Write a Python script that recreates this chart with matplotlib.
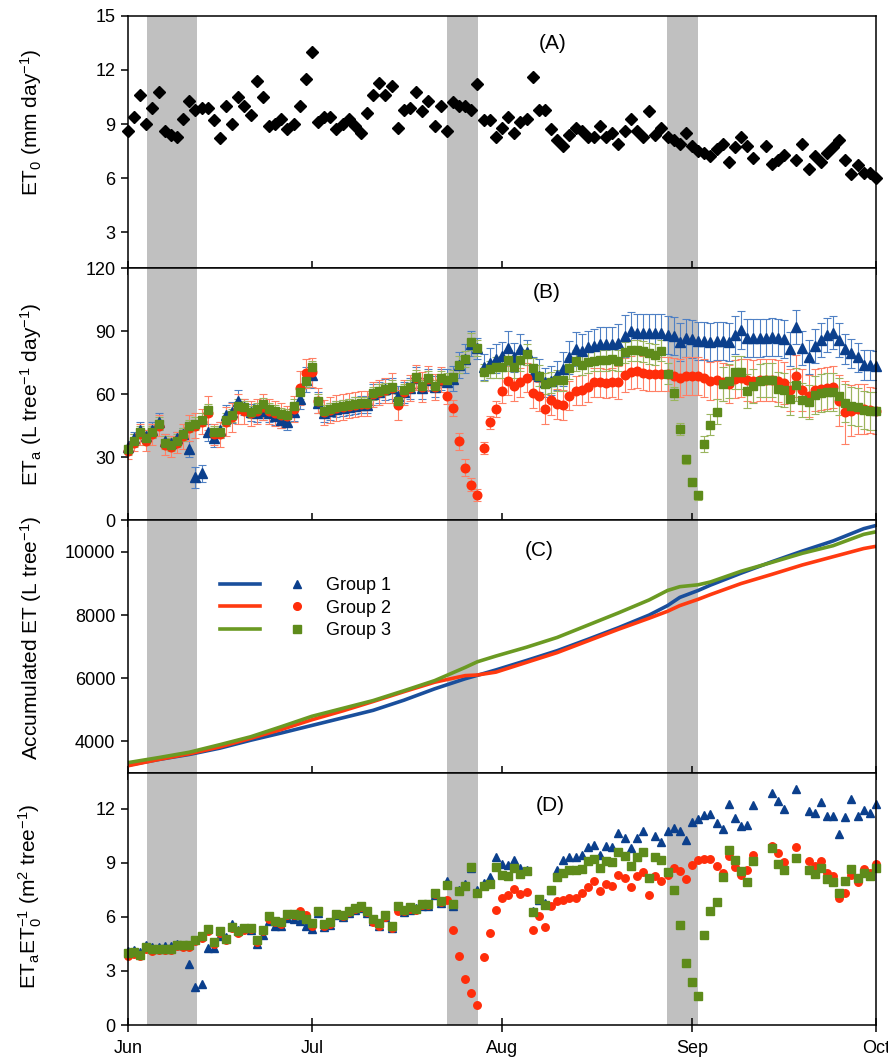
import numpy as np
import matplotlib
matplotlib.use('Agg')
import matplotlib.pyplot as plt
from matplotlib.lines import Line2D
from matplotlib.legend_handler import HandlerTuple

plt.rcParams['font.family'] = ['Liberation Sans', 'DejaVu Sans']
plt.rcParams['mathtext.fontset'] = 'custom'
plt.rcParams['mathtext.rm'] = 'Liberation Sans'
plt.rcParams['mathtext.it'] = 'Liberation Sans:italic'
plt.rcParams['mathtext.bf'] = 'Liberation Sans:bold'
plt.rcParams['mathtext.default'] = 'regular'

nan = np.nan

# ── Data (day 0 = 1 June, day 122 = 1 October) ─────────────────
days = np.arange(123)
month_ticks = [0, 30, 61, 92, 122]
month_labels = ['Jun', 'Jul', 'Aug', 'Sep', 'Oct']

# grey periods (days since 1 June)
shade_start = [3.1, 52.0, 87.9]
shade_end = [11.25, 57.1, 93.0]

# (A) reference ET, mm/day
et0 = [8.6, 9.4, 10.6, 9.0, 9.9, 10.8, 8.6, 8.4, 8.3, 9.3,
       10.3, 9.8, 9.9, 9.9, 9.2, 8.2, 10.0, 9.0, 10.5, 10.0,
       9.5, 11.4, 10.5, 8.9, 9.0, 9.3, 8.7, 9.0, 10.0, 11.5,
       13.0, 9.1, 9.4, 9.4, 8.7, 9.0, 9.3, 8.9, 8.5, 9.6,
       10.6, 11.3, 10.6, 11.1, 8.8, 9.8, 9.9, 10.8, 9.7, 10.3,
       8.9, 10.0, 8.6, 10.2, 10.0, 10.0, 9.8, 11.2, 9.2, 9.2,
       8.3, 8.8, 9.4, 8.5, 9.1, 9.3, 11.6, 9.8, 9.8, 8.7,
       8.1, 7.8, 8.4, 8.8, 8.6, 8.3, 8.3, 8.9, 8.3, 8.5,
       7.9, 8.6, 9.3, 8.6, 8.3, 9.7, 8.4, 8.8, 8.3, 8.1,
       7.9, 8.5, 7.8, 7.5, 7.4, 7.2, 7.6, 7.9, 6.9, 7.7,
       8.3, 7.8, 7.1, nan, 7.8, 6.8, 7.0, 7.3, nan, 7.0,
       7.9, 6.5, 7.2, 6.9, 7.4, 7.7, 8.1, 7.0, 6.2, 6.7,
       6.3, 6.3, 6.0]

# (B) actual ET, L/tree/day, with standard errors
g1_eta = [35, 39, 43, 40, 43, 47, 38, 37, 39, 41,
          34, 20.6, 22.5, 42, 39, 43, 50, 51.5, 57, 54,
          51.5, 51, 52, 51, 49.5, 48, 47, 51.5, 58, 67,
          69, 56, 51, 52, 53, 53.5, 54, 54.5, 55, 55,
          60, 61, 62.5, 63, 59, 61, 63, 68, 63, 67,
          63.5, 67, 66, 67.5, 74, 77, 84, 82, 73, 75,
          77, 78, 82, 77.6, 81.5, 80, 69.7, 68.9, 65.7, 66.5,
          69, 72, 77.6, 81.5, 80.7, 82.3, 83, 84, 84, 84,
          84.3, 87.9, 90.2, 89.4, 89, 89.4, 89, 89, 88.3, 87.9,
          84.7, 86.7, 86.3, 85.5, 85.5, 84.7, 85.5, 85.5, 84.7, 88.3,
          90.5, 86.7, 86.7, 86.7, 87, 87.4, 87, 86.3, 81.5, 92,
          82, 77.9, 83, 85.8, 88.3, 89.4, 85.8, 81.5, 79.5, 77.6,
          74, 74, 73.6]
g2_eta = [33, 37, 41, 38, 41, 45, 36, 35, 37, 40,
          44, 45, 47, 51, 41, 41, 47, 49, 53, 52,
          51, 52, 54, 52, 51, 50, 49.5, 53, 63, 70,
          70.4, 57, 51.5, 52.5, 53.5, 54, 54.5, 55, 55.5, 55.5,
          60, 61, 62, 63, 55, 61, 63, 68, 63.5, 67.5,
          63.5, 67, 59.4, 53.5, 37.7, 25, 17, 12.2, 34.5, 46.7,
          53, 61.7, 66.5, 64, 65.7, 68, 60.5, 59, 53, 57.3,
          55.4, 55, 59.4, 61.7, 62, 63.3, 65.7, 65.7, 65.2, 65.7,
          65.7, 69.3, 70.4, 71, 70, 69.7, 69.7, 69.7, 69.7, 68.5,
          67.8, 68.9, 68.9, 68.9, 67.8, 66.5, 66.8, 65.7, 65, 67.3,
          67.8, 66.8, 66.5, 66.8, 66.8, 66.8, 66.5, 65.2, 62, 68.9,
          62, 59.4, 62, 62.5, 63, 63.3, 57, 51.4, 52.2, 53,
          53, 52.5, 52.2]
g3_eta = [34, 38, 42, 39, 42, 46, 37, 36, 38, 41,
          45, 46, 48, 52.5, 42, 42, 48, 50, 54.6, 54,
          51.5, 53, 55.4, 53, 52, 50.7, 50, 54.6, 61, 66.5,
          72.8, 57, 52, 53, 54, 54.5, 55, 55.5, 55.7, 55.7,
          60.5, 61.7, 62.5, 63.6, 57, 62, 63.6, 68.4, 64, 68,
          64, 68, 67, 68.4, 74, 76.8, 85, 82, 70.4, 72,
          72.8, 73, 76.3, 73, 76.3, 79, 72.5, 68.9, 65, 65.7,
          66.8, 66.8, 72.5, 76, 74, 75.2, 76, 76.3, 76.3, 76.8,
          76, 80, 81, 81, 80.4, 79.5, 78.8, 80.7, 69.7, 60.5,
          43.5, 29, 18.2, 11.9, 36.4, 45.6, 51.8, 65, 66.2, 70.4,
          70.4, 61.7, 64, 66.5, 66.8, 66.8, 62.5, 62, 58, 64.6,
          57.3, 56.2, 59.8, 60.5, 61, 61, 59, 55.7, 54.6, 53.8,
          52.5, 52.2, 52]
g1_err = [3, 3, 4, 3, 4, 4, 3, 3, 3, 3,
          4, 5, 4, 4, 4, 4, 5, 5, 5, 4,
          4, 4, 4, 4, 4, 4, 4, 4, 5, 6,
          6, 5, 4, 4, 4, 4, 4, 4, 4, 4,
          5, 5, 5, 5, 5, 5, 5, 5, 5, 5,
          5, 5, 6, 6, 6, 7, 6, 5, 6, 7,
          7, 7, 8, 7, 7, 6, 8, 8, 7, 7,
          7, 8, 8, 8, 8, 8, 8, 8, 8, 8,
          9, 10, 9, 9, 9, 9, 9, 9, 9, 9,
          9, 9, 9, 9, 9, 9, 9, 9, 9, 9,
          9, 9, 9, 9, 9, 9, 9, 9, 8, 8,
          8, 8, 8, 8, 8, 8, 8, 7, 7, 7,
          7, 7, 7]
g2_err = [4, 4, 5, 5, 5, 5, 5, 5, 5, 6,
          6, 6, 6, 8, 5, 6, 7, 7, 7, 6,
          6, 6, 6, 6, 6, 6, 5, 6, 8, 7,
          7, 6, 6, 6, 6, 6, 6, 6, 6, 6,
          6, 6, 6, 7, 7, 6, 6, 6, 7, 6,
          6, 6, 4, 4, 4, 4, 3, 3, 3, 3,
          4, 6, 7, 7, 7, 7, 7, 7, 7, 7,
          7, 7, 7, 7, 7, 7, 7, 7, 7, 7,
          8, 8, 8, 8, 8, 8, 8, 8, 8, 9,
          9, 9, 9, 9, 9, 9, 9, 9, 9, 9,
          9, 10, 10, 10, 10, 10, 10, 10, 10, 10,
          10, 10, 10, 10, 10, 10, 12, 15, 12, 12,
          12, 11, 11]
g3_err = [3, 3, 3, 3, 3, 3, 3, 3, 3, 3,
          3, 3, 3, 3, 3, 3, 3, 3, 3, 3,
          3, 3, 3, 3, 3, 3, 3, 3, 3, 3,
          3, 3, 3, 3, 3, 3, 3, 3, 3, 3,
          3, 3, 3, 3, 3, 3, 3, 3, 3, 3,
          3, 3, 3, 3, 4, 4, 4, 4, 4, 4,
          5, 5, 5, 5, 5, 5, 5, 5, 5, 5,
          5, 5, 5, 5, 5, 5, 5, 5, 5, 5,
          5, 5, 5, 5, 5, 5, 5, 5, 5, 3,
          3, 2, 2, 2, 4, 5, 6, 8, 8, 8,
          8, 8, 8, 8, 8, 8, 8, 8, 8, 8,
          8, 8, 9, 9, 9, 9, 9, 9, 9, 9,
          9, 9, 9]

# (C) accumulated ET, L/tree
acc_days = [0, 5, 10, 15, 20, 25, 30, 35, 40, 45, 50, 55, 57, 60, 65, 70,
            75, 80, 85, 88, 90, 93, 95, 100, 105, 110, 115, 120, 122]
g1_acc = [3240, 3420, 3580, 3780, 4030, 4260, 4500, 4740, 4980, 5300, 5660,
          5980, 6090, 6260, 6560, 6870, 7230, 7600, 8000, 8300, 8560, 8780,
          8950, 9330, 9690, 10030, 10350, 10740, 10840]
g2_acc = [3220, 3420, 3600, 3820, 4090, 4370, 4680, 4960, 5260, 5570, 5870,
          6080, 6100, 6190, 6500, 6810, 7180, 7550, 7900, 8120, 8300, 8500,
          8650, 9000, 9290, 9590, 9850, 10110, 10180]
g3_acc = [3320, 3480, 3650, 3890, 4140, 4460, 4790, 5040, 5290, 5600, 5920,
          6340, 6520, 6700, 6980, 7290, 7680, 8070, 8480, 8780, 8900, 8960,
          9050, 9390, 9670, 9960, 10200, 10560, 10640]

# (D) ETa / ET0, m2/tree
g1_ratio = [4.1, 4.15, 4.05, 4.45, 4.35, 4.35, 4.4, 4.4, 4.5, 4.45,
            3.36, 2.12, 2.29, 4.28, 4.28, 4.95, 4.9, 5.6, 5.3, 5.4,
            5.3, 4.5, 5.0, 5.75, 5.5, 5.5, 5.95, 5.9, 5.8, 5.5,
            5.35, 6.2, 5.45, 5.55, 6.1, 6.0, 6.2, 6.4, 6.5, 6.2,
            5.8, 5.5, 6.0, 5.4, 6.6, 6.25, 6.4, 6.5, 6.6, 6.6,
            7.2, 6.75, 7.97, 6.6, 7.5, 7.8, 8.7, 7.5, 7.9, 8.2,
            9.32, 8.95, 8.9, 9.13, 8.71, 8.6, 6.31, 6.96, 6.77, 7.5,
            8.58, 9.13, 9.32, 9.32, 9.45, 9.87, 10.0, 9.45, 9.94, 9.9,
            10.65, 10.37, 9.82, 10.37, 10.74, nan, 10.5, 10.13, 10.79, 10.92,
            10.79, 10.24, 11.29, 11.42, 11.66, 11.7, 11.2, 10.87, 12.27, 11.48,
            11.05, 11.1, 12.21, nan, nan, 12.9, 12.45, 11.97, nan, 13.08,
            nan, 11.9, 11.75, 12.36, 11.6, 11.6, 10.6, 11.57, 12.53, 11.6,
            11.94, 11.75, 12.27]
g2_ratio = [3.85, 3.95, 3.85, 4.2, 4.1, 4.15, 4.15, 4.15, 4.4, 4.35,
            4.35, 4.65, 4.85, 5.2, 4.5, 5.1, 4.7, 5.4, 5.1, 5.3,
            5.35, 4.6, 5.2, 5.9, 5.7, 5.6, 6.1, 6.1, 6.3, 6.1,
            5.5, 6.3, 5.5, 5.6, 6.15, 6.05, 6.25, 6.45, 6.55, 6.25,
            5.7, 5.5, 6.0, 5.4, 6.3, 6.3, 6.45, 6.4, 6.65, 6.65,
            7.25, 6.8, 6.96, 5.26, 3.82, 2.53, 1.79, 1.11, 3.78, 5.11,
            6.4, 7.05, 7.23, 7.55, 7.29, 7.36, 5.26, 6.03, 5.44, 6.62,
            6.86, 6.96, 7.05, 7.05, 7.32, 7.66, 7.97, 7.42, 7.84, 7.73,
            8.34, 8.15, 7.66, 8.25, 8.47, 7.23, 8.28, 7.97, 8.3, 8.71,
            8.52, 8.1, 8.89, 9.13, 9.21, 9.21, 8.8, 8.43, 9.39, 8.76,
            8.34, 8.62, 9.45, nan, nan, 9.94, 9.54, 9.02, nan, 9.87,
            nan, 9.08, 8.8, 9.08, 8.43, 8.25, 7.05, 7.32, 8.34, 7.92,
            8.65, 8.43, 8.95]
g3_ratio = [4.0, 4.03, 3.9, 4.33, 4.2, 4.2, 4.2, 4.2, 4.46, 4.46,
            4.46, 4.74, 4.92, 5.33, 4.6, 5.2, 4.78, 5.44, 5.2, 5.39,
            5.39, 4.7, 5.26, 6.03, 5.8, 5.7, 6.18, 6.18, 6.12, 5.89,
            5.66, 6.31, 5.6, 5.7, 6.18, 6.12, 6.31, 6.49, 6.58, 6.31,
            5.89, 5.66, 6.12, 5.48, 6.58, 6.4, 6.55, 6.44, 6.73, 6.73,
            7.32, 6.86, 7.78, 6.73, 7.41, 7.73, 8.76, 7.32, 7.69, 7.84,
            8.76, 8.34, 8.25, 8.71, 8.4, 8.52, 6.25, 6.99, 6.68, 7.47,
            8.21, 8.43, 8.62, 8.62, 8.65, 9.08, 9.21, 8.71, 9.08, 9.05,
            9.58, 9.39, 8.8, 9.32, 9.58, 8.15, 9.32, 9.13, 8.47, 7.47,
            5.54, 3.45, 2.38, 1.61, 5.02, 6.31, 6.81, 8.21, 9.69, 9.13,
            8.56, 7.92, 9.08, nan, nan, 9.82, 8.95, 8.58, nan, 9.26,
            nan, 8.62, 8.4, 8.71, 8.1, 7.92, 7.32, 7.97, 8.65, 8.15,
            8.43, 8.28, 8.71]

group_names = ['Group 1', 'Group 2', 'Group 3']

# ── Styles ─────────────────────────────────────────────────────
COL = ['#0B3F8C', '#FF2D0A', '#5E8B1B']
ECOL = ['#4F80C4', '#FF8066', '#9AB55E']
LCOL = ['#1A4F9C', '#FF3A10', '#6B9A23']
MARK = ['^', 'o', 's']
MS_B = [7.0, 6.2, 6.2]
MS_D = [6.0, 5.4, 5.4]
SHADE = '#C0C0C0'

fig, axes = plt.subplots(4, 1, figsize=(8.88, 10.6), dpi=100, sharex=True)
fig.subplots_adjust(left=0.1441, right=0.9865, bottom=0.033, top=0.985, hspace=0)
axA, axB, axC, axD = axes

for ax in axes:
    for s0, s1 in zip(shade_start, shade_end):
        ax.axvspan(s0, s1, color=SHADE, lw=0, zorder=0)
    for sp in ax.spines.values():
        sp.set_linewidth(1.1)
        sp.set_zorder(5)
    ax.tick_params(axis='y', direction='out', length=5, width=1.1,
                   labelsize=13, pad=4, right=False)
    ax.tick_params(axis='x', direction='inout', length=10, width=1.1,
                   labelsize=13, pad=5.5, top=False)
    ax.set_xlim(0, 122)
    ax.set_xticks(month_ticks)

axD.set_xticklabels(month_labels)

# (A)
axA.plot(days, et0, ls='none', marker='D', ms=5.8, color='black',
         clip_on=False, zorder=3)
axA.set_ylim(1, 15)
axA.set_yticks([3, 6, 9, 12, 15])
axA.set_ylabel('ET$_0$ (mm day$^{-1}$)', fontsize=15)
axA.yaxis.set_label_coords(-0.112, 0.58)
axA.text(0.568, 0.89, '(A)', transform=axA.transAxes, fontsize=15,
         ha='center', va='center')

# (B)
for eta, err, c, ec, m, ms in zip([g1_eta, g2_eta, g3_eta],
                                  [g1_err, g2_err, g3_err],
                                  COL, ECOL, MARK, MS_B):
    axB.errorbar(days, eta, yerr=err, fmt='none', ecolor=ec, elinewidth=0.8,
                 capsize=3, capthick=0.8, zorder=2)
    axB.plot(days, eta, ls='none', marker=m, ms=ms, color=c, mec=c,
             clip_on=False, zorder=3)
axB.set_ylim(0, 120)
axB.set_yticks([0, 30, 60, 90, 120])
axB.set_ylabel('ET$_a$ (L tree$^{-1}$ day$^{-1}$)', fontsize=15)
axB.yaxis.set_label_coords(-0.112, 0.5)
axB.text(0.56, 0.905, '(B)', transform=axB.transAxes, fontsize=15,
         ha='center', va='center')

# (C)
line_handles = []
for acc, c in zip([g1_acc, g2_acc, g3_acc], LCOL):
    ln, = axC.plot(acc_days, acc, color=c, lw=2.6, solid_capstyle='butt',
                   zorder=3)
    line_handles.append(ln)
axC.set_ylim(3000, 11000)
axC.set_yticks([4000, 6000, 8000, 10000])
axC.set_ylabel('Accumulated ET (L tree$^{-1}$)', fontsize=15)
axC.yaxis.set_label_coords(-0.112, 0.535)
axC.text(0.55, 0.88, '(C)', transform=axC.transAxes, fontsize=15,
         ha='center', va='center')

mark_handles = [Line2D([], [], ls='none', marker=m, ms=5.5, color=c, mec=c)
                for m, c in zip(MARK, COL)]
legend_lines = [Line2D([], [], color=c, lw=2.6) for c in LCOL]
axC.legend([(l, mk) for l, mk in zip(legend_lines, mark_handles)], group_names,
           handler_map={tuple: HandlerTuple(ndivide=None, pad=0.95)},
           loc='upper left', bbox_to_anchor=(0.123, 0.775), frameon=False,
           fontsize=13, handlelength=5.4, handletextpad=0.45,
           labelspacing=0.3, borderpad=0, borderaxespad=0, numpoints=1)

# (D)
for ratio, c, m, ms in zip([g1_ratio, g2_ratio, g3_ratio], COL, MARK, MS_D):
    axD.plot(days, ratio, ls='none', marker=m, ms=ms, color=c, mec=c,
             clip_on=False, zorder=3)
axD.set_ylim(0, 14)
axD.set_yticks([0, 3, 6, 9, 12])
axD.set_ylabel('ET$_a$ET$_0^{-1}$ (m$^2$ tree$^{-1}$)', fontsize=15)
axD.yaxis.set_label_coords(-0.112, 0.51)
axD.text(0.565, 0.87, '(D)', transform=axD.transAxes, fontsize=15,
         ha='center', va='center')

fig.savefig('out.png', dpi=100, facecolor='white')
